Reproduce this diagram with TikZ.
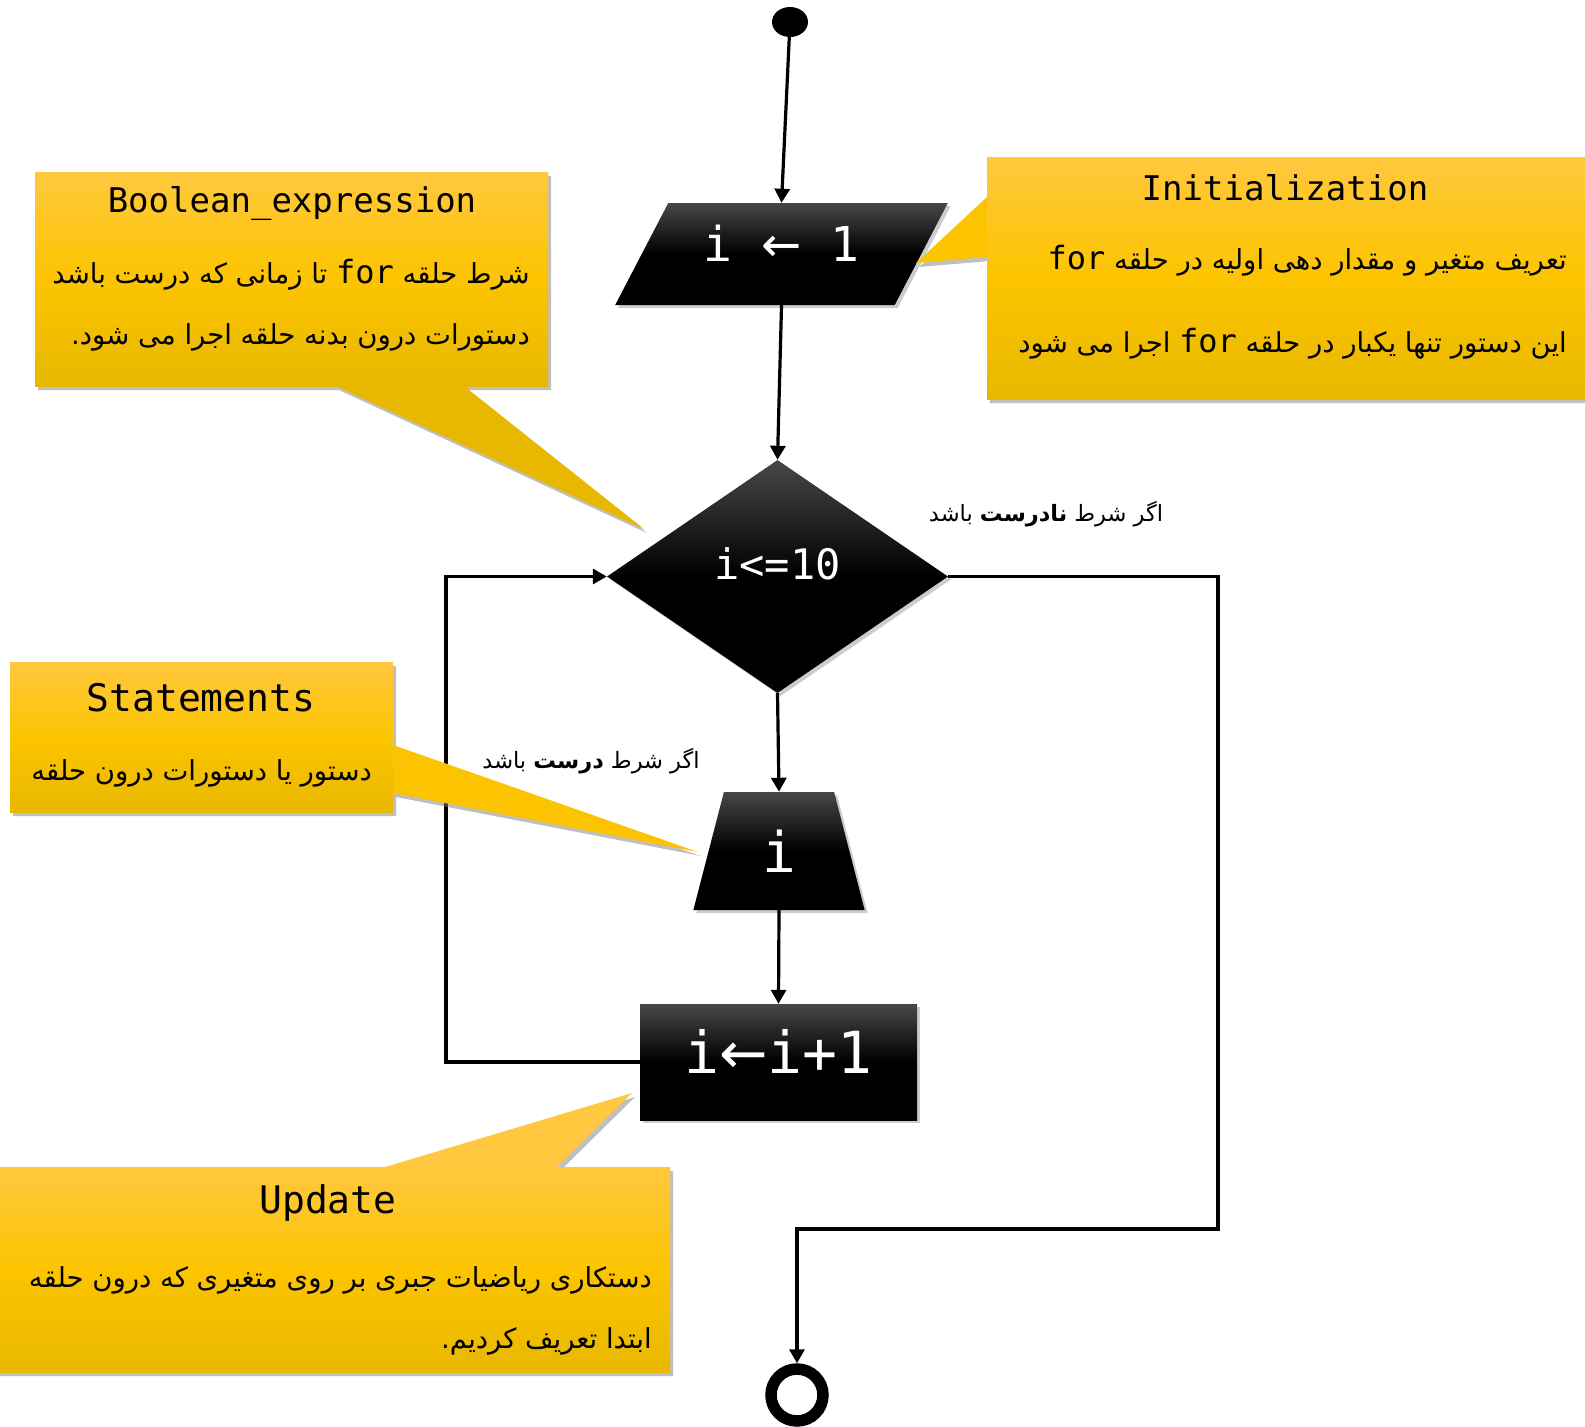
\documentclass[tikz,border=0pt]{standalone}
\usepackage{fontspec}
\setmainfont{DejaVu Sans}
\newfontfamily\arabicfont[Script=Arabic]{DejaVu Sans}
\newfontfamily\monofont{DejaVu Sans Mono}
\newfontfamily\arrowfont{DejaVu Sans}
\TeXXeTstate=1
\usetikzlibrary{positioning,arrows.meta,shapes.geometric,shadows,calc}
\definecolor{noteTop}{RGB}{255,200,62}
\definecolor{noteMid}{RGB}{252,196,0}
\definecolor{noteBot}{RGB}{232,184,0}
\pgfdeclareverticalshading{notefade}{100bp}{color(0bp)=(noteBot); color(25bp)=(noteBot); color(50bp)=(noteMid); color(75bp)=(noteTop); color(100bp)=(noteTop)}
\pgfdeclareverticalshading{blockfade}{100bp}{color(0bp)=(black); color(50bp)=(black); color(75bp)=(black!72); color(100bp)=(black!72)}
\newcommand{\forword}{\beginL{\monofont\fontsize{32}{34}\selectfont for}\endL}

\begin{document}
\begin{tikzpicture}[x=1pt, y=-1pt,
  block/.style={shading=blockfade, text=white, inner sep=0pt,
    font=\monofont\fontsize{48}{50}\selectfont,
    drop shadow={shadow xshift=3pt, shadow yshift=-3pt, opacity=0.4}},
  flow/.style={line width=3.2pt, -{Triangle[length=14pt, width=15pt]}},
  startdot/.style={ellipse, fill=black, minimum width=36pt, minimum height=30pt, inner sep=0pt},
  stopring/.style={circle, draw=black, line width=11.5pt, minimum size=52pt, inner sep=0pt, outer sep=5.75pt},
  notebody/.style={drop shadow={shadow xshift=3pt, shadow yshift=-4pt, opacity=0.5}},
  noteface/.style={shading=notefade},
  notetitle/.style={font=\monofont\fontsize{34}{36}\selectfont, inner sep=0pt},
  notetext/.style={font=\arabicfont\fontsize{27.5}{30}\selectfont, inner sep=0pt, anchor=east},
  branchlabel/.style={font=\arabicfont\fontsize{22.5}{26}\selectfont, inner sep=0pt}]
\useasboundingbox (0,0) rectangle (1585,1427);
% Flow blocks
\node[startdot] (start) at (790,22) {};
\node[block, trapezium, trapezium left angle=58, trapezium right angle=122,
  trapezium stretches=true, minimum width=333pt, minimum height=102pt,
  text depth=22pt] (init) at (781.5,254) {i {\arrowfont←} 1};
\node[block, diamond, minimum width=341pt, minimum height=233pt,
  font=\monofont\fontsize{42}{44}\selectfont, text depth=26pt] (cond) at (777.5,576.5) {i<=10};
\node[block, trapezium, trapezium angle=77.6, trapezium stretches=true,
  minimum width=172pt, minimum height=118pt, font=\monofont\fontsize{56}{58}\selectfont] (body) at (779,851) {i};
\node[block, rectangle, minimum width=277pt, minimum height=116pt,
  font=\monofont\fontsize{58}{60}\selectfont, text depth=22pt] (incr) at (778.5,1062) {i{\arrowfont←}i+1};
\node[stopring] (stop) at (797,1395) {};
% Connectors
\coordinate (loopL) at (446,0);
\coordinate (exitR) at (1218,1229);
\draw[flow] (start) -- (init.north);
\draw[flow] (init.south) -- (cond.north);
\draw[flow] (cond.south) -- (body.north);
\draw[flow] (body.south) -- (incr.north);
\draw[flow] (incr.west) -- (incr.west -| loopL) |- (cond.west);
\draw[flow] (cond.east) -| (exitR) -| (stop.north);
% Branch labels
\node[branchlabel] (falseLbl) at (1046,514) {\beginR اگر شرط {\bfseries نادرست} باشد\endR};
\node[branchlabel] (trueLbl) at (591,761) {\beginR اگر شرط {\bfseries درست} باشد\endR};
% Callout: Boolean_expression
\path[notebody, fill=noteBot] (35,172) -- (548,172) -- (548,386) -- (464,386) -- (644,529)
  -- (336,386) -- (35,386) -- cycle;
\shade[noteface] (35,172) rectangle (548,386);
\node[notetitle] (boolTitle) at (292,203) {Boolean\_expression};
\node[notetext] (boolLineA) at (530,275) {\beginR شرط حلقه \forword{} تا زمانی که درست باشد\endR};
\node[notetext] (boolLineB) at (530,337) {\beginR دستورات درون بدنه حلقه اجرا می شود.\endR};
% Callout: Initialization
\path[notebody, fill=noteMid] (987,157) -- (1592,157) -- (1592,399) -- (987,399) -- (987,257)
  -- (916,263) -- (987,197) -- cycle;
\shade[noteface] (987,157) rectangle (1592,399);
\node[notetitle] (initTitle) at (1285,188) {Initialization};
\node[notetext] (initLineA) at (1567,261) {\beginR تعریف متغیر و مقدار دهی اولیه در حلقه \forword\endR};
\node[notetext] (initLineB) at (1567,344) {\beginR این دستور تنها یکبار در حلقه \forword{} اجرا می شود\endR};
% Callout: Statements
\path[notebody, fill=noteMid] (10,662) -- (393,662) -- (393,745) -- (698,852) -- (393,793)
  -- (393,812) -- (10,812) -- cycle;
\shade[noteface] (10,662) rectangle (393,812);
\node[notetitle, font=\monofont\fontsize{38}{40}\selectfont] (stmtTitle) at (201,698) {Statements};
\node[notetext] (stmtLine) at (372,773) {\beginR دستور یا دستورات درون حلقه\endR};
% Callout: Update
\path[notebody, fill=noteTop] (-5,1167) -- (385,1167) -- (632,1093) -- (557,1167) -- (670,1167)
  -- (670,1372) -- (-5,1372) -- cycle;
\shade[noteface] (-5,1167) rectangle (670,1372);
\node[notetitle, font=\monofont\fontsize{38}{40}\selectfont] (updTitle) at (328,1203) {Update};
\node[notetext] (updLineA) at (652,1280) {\beginR دستکاری ریاضیات جبری بر روی متغیری که درون حلقه\endR};
\node[notetext] (updLineB) at (652,1341) {\beginR ابتدا تعریف کردیم.\endR};
\end{tikzpicture}
\end{document}
